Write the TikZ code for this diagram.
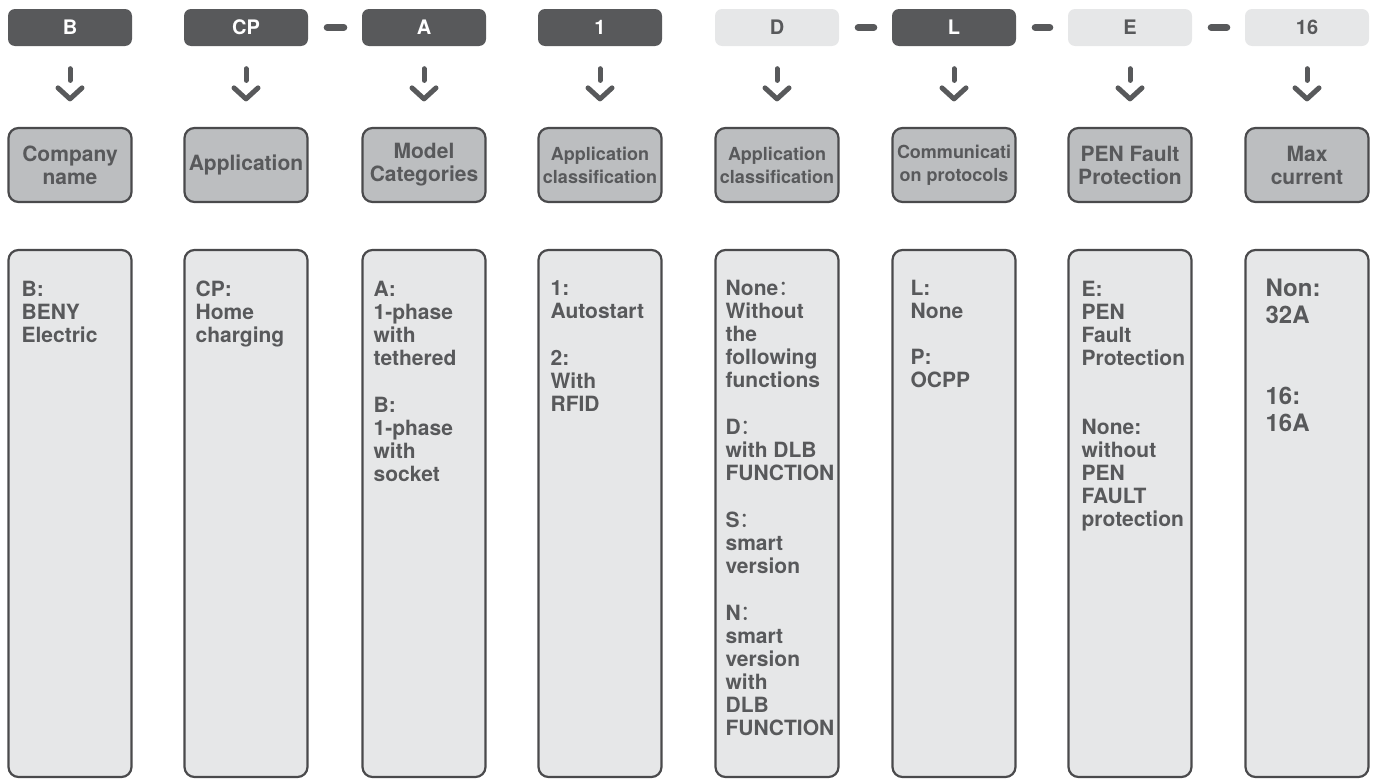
\documentclass[tikz,border=0pt]{standalone}
\usepackage{fontspec}
\setmainfont{TeX Gyre Heros}
\newfontfamily\cjkfont{Noto Sans CJK SC}
\usetikzlibrary{calc}
\definecolor{dk}{HTML}{58595B}
\definecolor{lt}{HTML}{E6E7E8}
\definecolor{md}{HTML}{BCBEC0}
\definecolor{ol}{HTML}{4A4A4C}
\newcommand{\fwc}{{\cjkfont\mdseries ：}}
\begin{document}
\begin{tikzpicture}[x=1pt,y=-1pt,
  lbl/.style={rounded corners=7pt, minimum width=124pt, minimum height=37pt, inner sep=0pt, font=\bfseries\fontsize{20}{20}\selectfont},
  lbldark/.style={lbl, fill=dk, text=white},
  lbllight/.style={lbl, fill=lt, text=dk},
  head/.style={draw=ol, line width=2.2pt, fill=md, rounded corners=10pt, minimum width=123pt, minimum height=74pt, inner sep=0pt, align=center, text=dk, font=\bfseries\fontsize{21}{23}\selectfont},
  headsm/.style={head, font=\bfseries\fontsize{18}{23}\selectfont},
  tall/.style={draw=ol, line width=2.2pt, fill=lt, rounded corners=10pt, minimum width=123pt, minimum height=527pt, inner sep=0pt},
  body/.style={anchor=north west, inner sep=0pt, align=left, text=dk, font=\bfseries\fontsize{21}{23}\selectfont},
  bodybig/.style={body, font=\bfseries\fontsize{24}{27}\selectfont},
  stem/.style={draw=dk, line width=5pt, line cap=round},
  chev/.style={draw=dk, line width=5pt, line cap=round, line join=round},
  dashbar/.style={draw=dk, line width=7pt, line cap=round}]
\useasboundingbox (0,0) rectangle (1377,779);

% top code labels
\node[lbldark]  (t1) at (70,27.5)   {B};
\node[lbldark]  (t2) at (246,27.5)  {CP};
\node[lbldark]  (t3) at (424,27.5)  {A};
\node[lbldark]  (t4) at (600,27.5)  {1};
\node[lbllight] (t5) at (777,27.5)  {D};
\node[lbldark]  (t6) at (954,27.5)  {L};
\node[lbllight] (t7) at (1130,27.5) {E};
\node[lbllight] (t8) at (1307,27.5) {16};

% dashes
\draw[dashbar] ($(t2.east)+(19,0)$) -- ($(t3.west)+(-18,0)$);
\draw[dashbar] ($(t5.east)+(19,0)$) -- ($(t6.west)+(-18,0)$);
\draw[dashbar] ($(t6.east)+(19,0)$) -- ($(t7.west)+(-18,0)$);
\draw[dashbar] ($(t7.east)+(19,0)$) -- ($(t8.west)+(-18,0)$);

% header boxes
\node[head]   (h1) at (70,165)   {Company\\name};
\node[head]   (h2) at (246,165)  {Application};
\node[head]   (h3) at (424,165)  {Model\\Categories};
\node[headsm] (h4) at (600,165)  {Application\\classification};
\node[headsm] (h5) at (777,165)  {Application\\classification};
\node[headsm] (h6) at (954,165)  {Communicati\\on protocols};
\node[head]   (h7) at (1130,165) {PEN Fault\\Protection};
\node[head]   (h8) at (1307,165) {Max\\current};

% arrows
\foreach \i in {1,...,8}{
  \draw[stem] ($(t\i.south)+(0,22.5)$) -- ($(h\i.north)+(0,-46.5)$);
  \draw[chev] ($(h\i.north)+(-12,-39)$) -- ($(h\i.north)+(0,-28)$) -- ($(h\i.north)+(12,-39)$);
}

% tall description boxes
\node[tall] (b1) at (70,513.5)   {};
\node[tall] (b2) at (246,513.5)  {};
\node[tall] (b3) at (424,513.5)  {};
\node[tall] (b4) at (600,513.5)  {};
\node[tall] (b5) at (777,513.5)  {};
\node[tall] (b6) at (954,513.5)  {};
\node[tall] (b7) at (1130,513.5) {};
\node[tall] (b8) at (1307,513.5) {};

% texts
\node[body] (d1) at ($(b1.north west)+(14,32)$) {B:\\BENY\\Electric};
\node[body] (d2) at ($(b2.north west)+(12,32)$) {CP:\\Home\\charging};
\node[body] (d3) at ($(b3.north west)+(12,32)$) {A:\\1-phase\\with\\tethered\\[24pt]B:\\1-phase\\with\\socket};
\node[body] (d4) at ($(b4.north west)+(13,32)$) {1:\\Autostart\\[24pt]2:\\With\\RFID};
\node[body] (d5) at ($(b5.north west)+(11,31)$) {None\fwc\\Without\\the\\following\\functions\\[24pt]D\fwc\\with DLB\\FUNCTION\\[24pt]S\fwc\\smart\\version\\[24pt]N\fwc\\smart\\version\\with\\DLB\\FUNCTION};
\node[body] (d6) at ($(b6.north west)+(19,31)$) {L:\\None\\[23pt]P:\\OCPP};
\node[body] (d7) at ($(b7.north west)+(14,32)$) {E:\\PEN\\Fault\\Protection\\[46pt]None:\\without\\PEN\\FAULT\\protection};
\node[bodybig] (d8) at ($(b8.north west)+(21,30)$) {Non:\\32A\\[54pt]16:\\16A};
\end{tikzpicture}
\end{document}
